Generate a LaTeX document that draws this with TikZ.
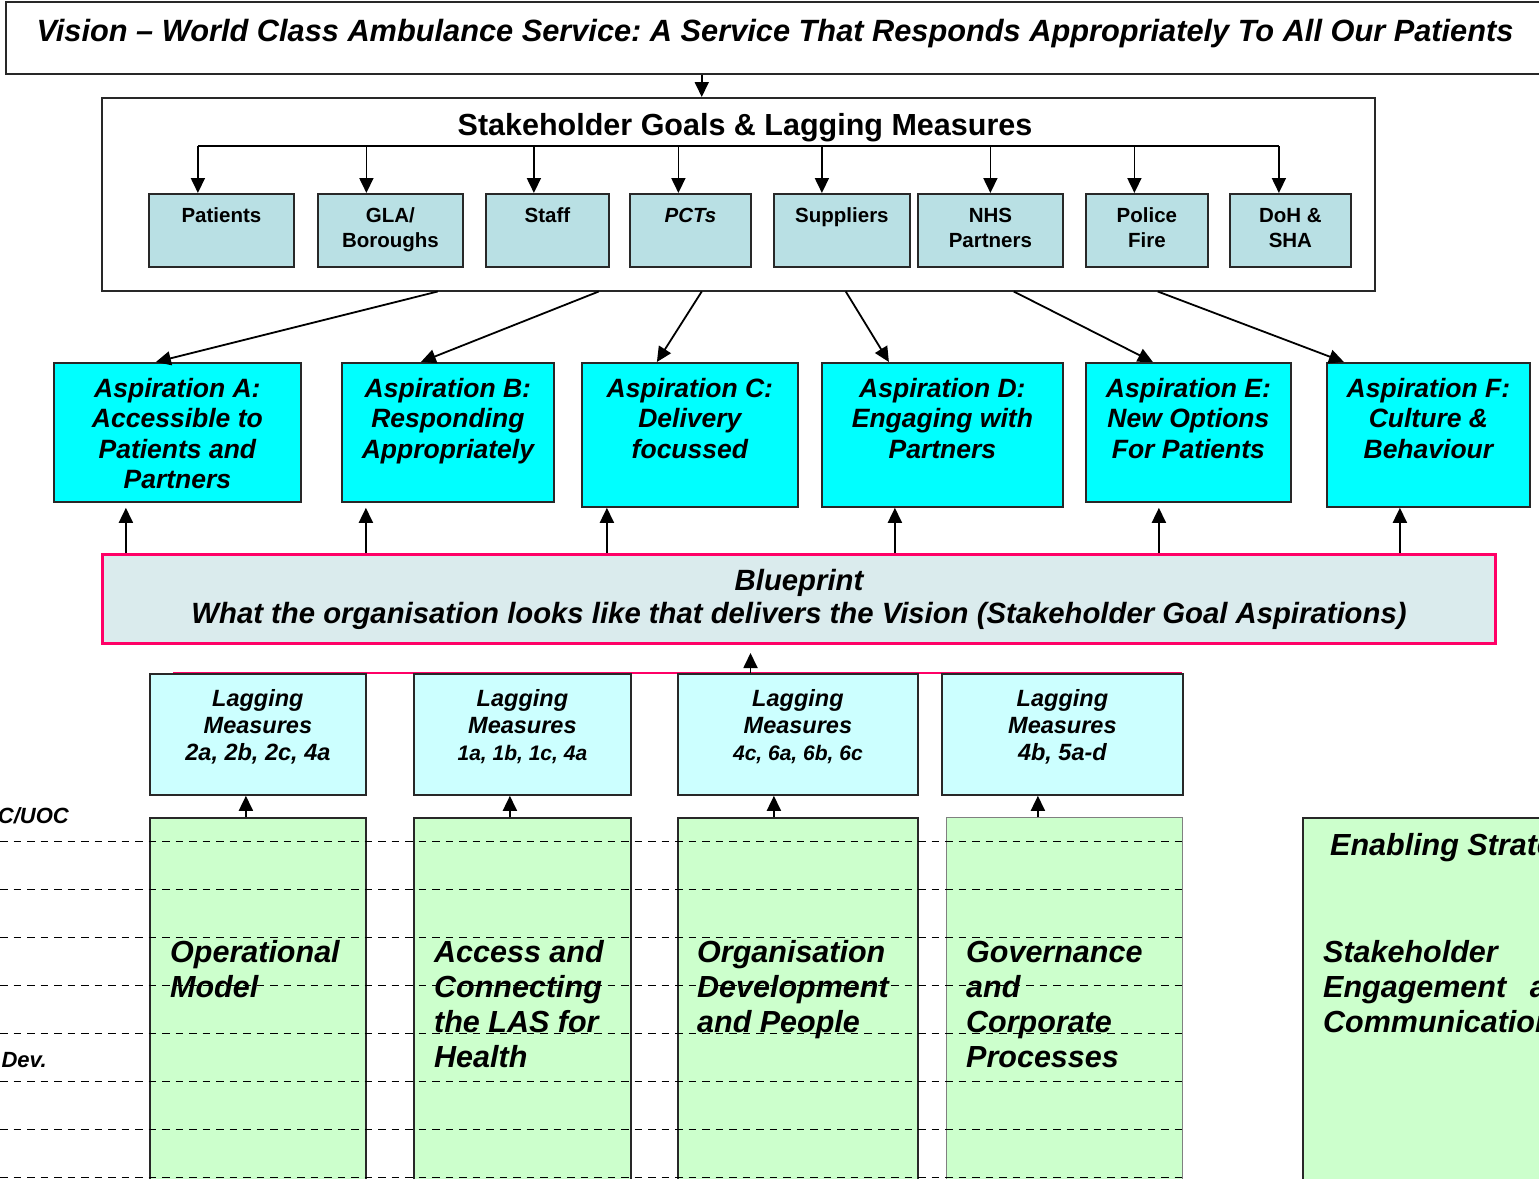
\documentclass[tikz,border=0pt]{standalone}
\usepackage{fontspec}
\setmainfont{Liberation Sans}
\frenchspacing
\usetikzlibrary{arrows.meta}
\definecolor{sgfill}{RGB}{185,224,228}
\definecolor{aspfill}{RGB}{0,255,255}
\definecolor{bpfill}{RGB}{218,235,237}
\definecolor{bpline}{RGB}{255,0,102}
\definecolor{lagfill}{RGB}{204,255,255}
\definecolor{grnfill}{RGB}{204,255,204}
\definecolor{boxline}{RGB}{40,40,40}
\newcommand{\topln}[1]{\rule{0pt}{#1}}
\tikzset{
	arr/.style={-{Triangle[length=15pt,width=14pt]},line width=1.8pt},
	frame/.style={draw=boxline,line width=1.8pt,anchor=north west,inner sep=0pt},
	sgbox/.style={frame,fill=sgfill,minimum height=73pt},
	aspbox/.style={frame,fill=aspfill},
	lagbox/.style={frame,fill=lagfill,minimum height=121pt},
	grnbox/.style={frame,fill=grnfill,minimum height=380pt},
	sgtxt/.style={anchor=north,align=center,inner sep=0pt,font=\fontsize{20.5}{25}\selectfont\bfseries},
	asptxt/.style={anchor=north,align=center,inner sep=0pt,font=\fontsize{26.5}{30.5}\selectfont\bfseries\itshape},
	lagtxt/.style={anchor=north,align=center,inner sep=0pt,font=\fontsize{23.5}{27}\selectfont\bfseries\itshape},
	grntxt/.style={anchor=north west,align=left,inner sep=0pt,font=\fontsize{30.5}{35}\selectfont\bfseries\itshape},
	sidetxt/.style={anchor=base east,inner sep=0pt,font=\fontsize{22}{26}\selectfont\bfseries\itshape},
	dashln/.style={dashed,dash pattern=on 7.5pt off 6pt,line width=1.5pt}
}
\begin{document}
\begin{tikzpicture}[x=1pt,y=-1pt]
				\useasboundingbox (0,0) rectangle (1539,1178);
				\node[frame,line width=1.5pt,minimum width=1545pt,minimum height=72pt] (vision) at (5,1) {};
				\node[anchor=base,inner sep=0pt,font=\fontsize{30.75}{36}\selectfont\bfseries\itshape] (visionT) at (775,41) {Vision – World Class Ambulance Service: A Service That Responds Appropriately To All Our Patients};
				\node[frame,line width=1.5pt,minimum width=1273pt,minimum height=193pt] (sg) at (101,97) {};
				\node[anchor=base,inner sep=0pt,font=\fontsize{30.5}{34}\selectfont\bfseries] (sgT) at (745,135) {Stakeholder Goals \& Lagging Measures};
				\draw[arr] ([xshift=-36.5pt]sg.north |- vision.south) -- ([xshift=-36.5pt]sg.north);
				\coordinate (bus) at (737,146);
				\node[sgbox,minimum width=145pt] (patients) at (148,193) {};
				\node[sgbox,minimum width=145pt] (gla) at (317,193) {};
				\node[sgbox,minimum width=123pt] (staff) at (485,193) {};
				\node[sgbox,minimum width=121pt] (pcts) at (629,193) {};
				\node[sgbox,minimum width=136pt] (suppliers) at (773,193) {};
				\node[sgbox,minimum width=145pt] (nhs) at (917,193) {};
				\node[sgbox,minimum width=122pt] (police) at (1085,193) {};
				\node[sgbox,minimum width=121pt] (doh) at (1229,193) {};
				\node[sgtxt] (patientsT) at ([yshift=-9pt]patients.north) {\topln{20pt}Patients};
				\node[sgtxt] (glaT) at ([yshift=-9pt]gla.north) {\topln{20pt}GLA/\\Boroughs};
				\node[sgtxt] (staffT) at ([yshift=-9pt]staff.north) {\topln{20pt}Staff};
				\node[sgtxt,font=\fontsize{20.5}{25}\selectfont\bfseries\itshape] (pctsT) at ([yshift=-9pt]pcts.north) {\topln{20pt}PCTs};
				\node[sgtxt] (suppliersT) at ([yshift=-9pt]suppliers.north) {\topln{20pt}Suppliers};
				\node[sgtxt] (nhsT) at ([yshift=-9pt]nhs.north) {\topln{20pt}NHS\\Partners};
				\node[sgtxt] (policeT) at ([yshift=-9pt]police.north) {\topln{20pt}Police\\Fire};
				\node[sgtxt] (dohT) at ([yshift=-9pt]doh.north) {\topln{20pt}DoH \&\\SHA};
				\draw[line width=1.8pt] ([xshift=-23.5pt]patients.north |- bus) -- ([xshift=-11.5pt]doh.north |- bus);
				\draw[arr] ([xshift=-23.5pt]patients.north |- bus) -- ([xshift=-23.5pt]patients.north);
				\draw[arr] ([xshift=-24pt]gla.north |- bus) -- ([xshift=-24pt]gla.north);
				\draw[arr] ([xshift=-13.5pt]staff.north |- bus) -- ([xshift=-13.5pt]staff.north);
				\draw[arr] ([xshift=-12pt]pcts.north |- bus) -- ([xshift=-12pt]pcts.north);
				\draw[arr] ([xshift=-20pt]suppliers.north |- bus) -- ([xshift=-20pt]suppliers.north);
				\draw[arr] (nhs.north |- bus) -- (nhs.north);
				\draw[arr] ([xshift=-12.5pt]police.north |- bus) -- ([xshift=-12.5pt]police.north);
				\draw[arr] ([xshift=-11.5pt]doh.north |- bus) -- ([xshift=-11.5pt]doh.north);
				\node[aspbox,minimum width=247pt,minimum height=139pt] (aspA) at (53,362) {};
				\node[aspbox,minimum width=212pt,minimum height=139pt] (aspB) at (341,362) {};
				\node[aspbox,minimum width=216pt,minimum height=144pt] (aspC) at (581,362) {};
				\node[aspbox,minimum width=241pt,minimum height=144pt] (aspD) at (821,362) {};
				\node[aspbox,minimum width=205pt,minimum height=139pt] (aspE) at (1085,362) {};
				\node[aspbox,minimum width=203pt,minimum height=144pt] (aspF) at (1326,362) {};
				\node[asptxt] (aspAT) at ([yshift=-9pt]aspA.north) {\topln{26pt}Aspiration A:\\Accessible to\\Patients and\\Partners};
				\node[asptxt] (aspBT) at ([yshift=-9pt]aspB.north) {\topln{26pt}Aspiration B:\\Responding\\Appropriately};
				\node[asptxt] (aspCT) at ([yshift=-9pt]aspC.north) {\topln{26pt}Aspiration C:\\Delivery\\focussed};
				\node[asptxt] (aspDT) at ([yshift=-9pt]aspD.north) {\topln{26pt}Aspiration D:\\Engaging with\\Partners};
				\node[asptxt] (aspET) at ([yshift=-9pt]aspE.north) {\topln{26pt}Aspiration E:\\New Options\\For Patients};
				\node[asptxt] (aspFT) at ([yshift=-9pt]aspF.north) {\topln{26pt}Aspiration F:\\Culture \&\\Behaviour};
				\draw[arr] ([xshift=-300.5pt]sg.south) -- ([xshift=-21.5pt]aspA.north);
				\draw[arr] ([xshift=-139.5pt]sg.south) -- ([xshift=-27pt]aspB.north);
				\draw[arr] ([xshift=-36.5pt]sg.south) -- ([xshift=-33pt]aspC.north);
				\draw[arr] ([xshift=107.5pt]sg.south) -- ([xshift=-53.5pt]aspD.north);
				\draw[arr] ([xshift=275.5pt]sg.south) -- ([xshift=-35.5pt]aspE.north);
				\draw[arr] ([xshift=419.5pt]sg.south) -- ([xshift=-84.5pt]aspF.north);
				\node[frame,draw=bpline,line width=3pt,fill=bpfill,minimum width=1393pt,minimum height=89pt] (bp) at (101,553) {};
				\node[asptxt,font=\fontsize{29.3}{33}\selectfont\bfseries\itshape] (bpT) at ([yshift=-9pt]bp.north) {\topln{28pt}Blueprint\\What the organisation looks like that delivers the Vision (Stakeholder Goal Aspirations)};
				\draw[arr] ([xshift=-51.5pt]aspA.south |- bp.north) -- ([xshift=-51.5pt]aspA.south |- aspC.south);
				\draw[arr] ([xshift=-82pt]aspB.south |- bp.north) -- ([xshift=-82pt]aspB.south |- aspC.south);
				\draw[arr] ([xshift=-83pt]aspC.south |- bp.north) -- ([xshift=-83pt]aspC.south);
				\draw[arr] ([xshift=-47.5pt]aspD.south |- bp.north) -- ([xshift=-47.5pt]aspD.south);
				\draw[arr] ([xshift=-29.5pt]aspE.south |- bp.north) -- ([xshift=-29.5pt]aspE.south |- aspC.south);
				\draw[arr] ([xshift=-28.5pt]aspF.south |- bp.north) -- ([xshift=-28.5pt]aspF.south);
				\coordinate (lagW) at (173,673);
				\coordinate (lagE) at (1182,673);
				\draw[bpline,line width=2pt] (lagW) -- (lagE);
				\draw[arr] ([xshift=-48.5pt]bp.south |- lagW) -- ([xshift=-48.5pt,yshift=-8pt]bp.south);
				\node[lagbox,minimum width=216pt] (lag1) at (149,673) {};
				\node[lagbox,minimum width=217pt] (lag2) at (413,673) {};
				\node[lagbox,minimum width=240pt] (lag3) at (677,673) {};
				\node[lagbox,minimum width=241pt] (lag4) at (941,673) {};
				\node[lagtxt] (lag1T) at ([yshift=-11pt]lag1.north) {\topln{22pt}Lagging\\Measures\\2a, 2b, 2c, 4a};
				\node[lagtxt] (lag2T) at ([yshift=-11pt]lag2.north) {\topln{22pt}Lagging\\Measures\\{\fontsize{21}{27}\selectfont 1a, 1b, 1c, 4a}};
				\node[lagtxt] (lag3T) at ([yshift=-11pt]lag3.north) {\topln{22pt}Lagging\\Measures\\{\fontsize{21}{27}\selectfont 4c, 6a, 6b, 6c}};
				\node[lagtxt] (lag4T) at ([yshift=-11pt]lag4.north) {\topln{22pt}Lagging\\Measures\\4b, 5a-d};
				\node[grnbox,minimum width=216pt] (grn1) at (149,817) {};
				\node[grnbox,minimum width=217pt] (grn2) at (413,817) {};
				\node[grnbox,minimum width=240pt] (grn3) at (677,817) {};
				\node[grnbox,draw=gray,line width=1.2pt,minimum width=236pt] (grn4) at (946,817) {};
				\node[grnbox,minimum width=260pt] (enab) at (1302,817) {};
				\draw[arr] ([xshift=-12pt]lag1.south |- grn1.north) -- ([xshift=-12pt]lag1.south);
				\draw[arr] ([xshift=-12.5pt]lag2.south |- grn2.north) -- ([xshift=-12.5pt]lag2.south);
				\draw[arr] ([xshift=-24pt]lag3.south |- grn3.north) -- ([xshift=-24pt]lag3.south);
				\draw[arr] ([xshift=-24.5pt]lag4.south |- grn4.north) -- ([xshift=-24.5pt]lag4.south);
				\foreach \y in {841.5,889.5,...,1177.5}
					\draw[dashln] (0,\y) -- (1182,\y);
				\node[grntxt] (grn1T) at ([xshift=21pt,yshift=-115pt]grn1.north west) {\topln{30pt}Operational\\Model};
				\node[grntxt] (grn2T) at ([xshift=21pt,yshift=-115pt]grn2.north west) {\topln{30pt}Access and\\Connecting\\the LAS for\\Health};
				\node[grntxt] (grn3T) at ([xshift=20pt,yshift=-115pt]grn3.north west) {\topln{30pt}Organisation\\Development\\and People};
				\node[grntxt] (grn4T) at ([xshift=20pt,yshift=-115pt]grn4.north west) {\topln{30pt}Governance\\and\\Corporate\\Processes};
				\node[grntxt] (enabT) at ([xshift=28pt,yshift=-8pt]enab.north west) {\topln{30pt}Enabling Strategies};
				\node[grntxt] (enabB) at ([xshift=21pt,yshift=-115pt]enab.north west) {\topln{30pt}Stakeholder\\Engagement\hspace{0.5em} and\\Communications};
				\node[sidetxt] (uoc) at (69,823) {C/UOC};
				\node[sidetxt] (dev) at (47,1067) {Dev.};
\end{tikzpicture}
\end{document}
